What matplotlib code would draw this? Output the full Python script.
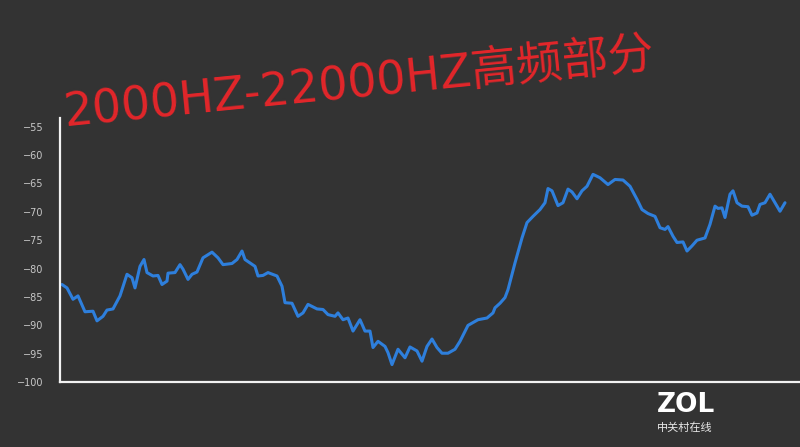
import numpy as np
import matplotlib
matplotlib.use('Agg')
import matplotlib.pyplot as plt

# 曲线数据 (横向位置无刻度, 只是采样序号)
pos = [2, 7, 13, 18, 25, 33, 37, 43, 47, 53, 60, 67, 72, 75, 80, 84, 87, 93, 98, 102,
       107, 108, 115, 120, 123, 128, 132, 137, 143, 152, 158, 163, 172, 177, 182, 185, 190, 195, 198, 203,
       208, 217, 222, 225, 232, 238, 243, 248, 257, 263, 268, 275, 278, 283, 288, 293, 300, 305, 310, 313,
       318, 325, 328, 332, 338, 345, 350, 357, 362, 367, 372, 377, 382, 388, 395, 400, 408, 418, 427, 433,
       435, 440, 445, 448, 455, 462, 467, 473, 480, 485, 488, 492, 498, 503, 508, 512, 517, 522, 527, 533,
       540, 548, 555, 563, 570, 577, 582, 588, 595, 600, 605, 608, 613, 617, 623, 627, 632, 637, 645, 650,
       655, 658, 662, 665, 670, 673, 677, 682, 688, 692, 697, 700, 705, 710, 715, 720, 725]
db = [-82.8, -83.4, -85.4, -84.8, -87.6, -87.5, -89.2, -88.4, -87.3, -87.1,
      -84.8, -81.0, -81.6, -83.4, -79.6, -78.4, -80.7, -81.3, -81.2, -82.8,
      -82.2, -80.8, -80.7, -79.3, -80.1, -81.9, -81.0, -80.6, -78.1, -77.1,
      -78.1, -79.3, -79.1, -78.4, -76.9, -78.4, -79.0, -79.6, -81.3, -81.2,
      -80.7, -81.3, -83.1, -86.0, -86.1, -88.4, -87.8, -86.3, -87.1, -87.2,
      -88.1, -88.4, -87.8, -89.0, -88.7, -91.0, -89.0, -91.0, -91.0, -93.9,
      -92.8, -93.7, -94.8, -96.9, -94.2, -95.7, -93.8, -94.5, -96.3, -93.7,
      -92.4, -93.9, -94.9, -94.9, -94.2, -92.8, -90.0, -89.0, -88.7, -87.8,
      -86.9, -86.1, -85.1, -83.7, -79.0, -74.6, -71.9, -70.8, -69.6, -68.4,
      -65.9, -66.3, -68.9, -68.4, -66.0, -66.5, -67.7, -66.3, -65.5, -63.4,
      -64.0, -65.2, -64.3, -64.4, -65.5, -67.8, -69.6, -70.3, -70.8, -72.8,
      -73.1, -72.6, -74.3, -75.4, -75.3, -76.9, -76.0, -75.0, -74.6, -72.2,
      -69.0, -69.4, -69.3, -71.0, -66.9, -66.3, -68.4, -69.0, -69.1, -70.6,
      -70.2, -68.7, -68.4, -66.9, -68.4, -69.9, -68.4]
yticks = [-55, -60, -65, -70, -75, -80, -85, -90, -95, -100]

title = '2000HZ-22000HZ高频部分'

bg = '#333333'
fig = plt.figure(figsize=(8, 4.47), dpi=100, facecolor=bg)
ax = fig.add_axes([0.075, 0.145, 0.925, 0.592])
ax.set_facecolor(bg)

ax.plot(pos, db, color='#2e7fdc', lw=2.2, solid_joinstyle='round', solid_capstyle='round')

ax.set_xlim(0, 740)
ax.set_ylim(-100, -53.4)
ax.set_xticks([])
ax.set_yticks(yticks)
ax.tick_params(axis='y', length=0, pad=12, labelsize=7, labelcolor='#c8c8c8')

for s in ['top', 'right']:
    ax.spines[s].set_visible(False)
for s in ['left', 'bottom']:
    ax.spines[s].set_color('#f2f2f2')
    ax.spines[s].set_linewidth(1.6)

# 红色标题, 斜着写
fig.text(0.081, 0.718, title, color='#e3262a', fontsize=33, rotation=5.7,
         rotation_mode='anchor', ha='left', va='baseline',
         family=['DejaVu Sans', 'Noto Sans CJK SC'])

# 水印
fig.text(0.821, 0.078, 'ZOL', color='white', fontsize=19, fontweight='bold',
         ha='left', va='baseline', family='DejaVu Sans')
fig.text(0.821, 0.055, '中关村在线', color='#e8e8e8', fontsize=8,
         ha='left', va='top', family='Noto Sans CJK SC')

fig.savefig('out.png', dpi=100, facecolor=bg)
